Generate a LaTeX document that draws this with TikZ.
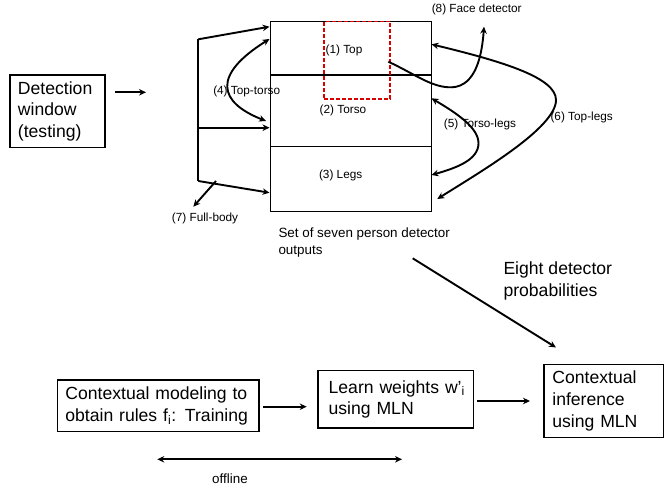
\documentclass[tikz,border=0pt]{standalone}
\usepackage{fontspec}
\setmainfont{Liberation Sans}
\usetikzlibrary{arrows.meta}
\begin{document}
\begin{tikzpicture}[x=1pt,y=-1pt,
  bigtxt/.style={font=\fontsize{17.6}{21.7}\selectfont},
  midtxt/.style={font=\fontsize{13.4}{17.3}\selectfont},
  smalltxt/.style={font=\fontsize{11.8}{14}\selectfont},
  box/.style={draw, line width=1.3pt, anchor=north west, align=left, inner ysep=0pt},
  part/.style={draw, line width=1.3pt, anchor=north west, inner sep=0pt},
  tip/.tip={Stealth[length=7pt,width=6.5pt]},
  arr/.style={line width=1.9pt, -tip},
  darr/.style={line width=1.9pt, tip-tip},
  plain/.style={line width=1.9pt}]
\useasboundingbox (0,0) rectangle (664,490);

% detection window
\node[box, bigtxt, minimum width=95pt, minimum height=72.4pt, text width=79pt, inner xsep=8pt] (det) at (9.3,74.3) {Detection\\window\\(testing)};
\coordinate (d1) at (115,92.3);
\coordinate (d2) at (146,92.3);
\draw[arr] (d1) -- (d2);

% main detector box
\node[part, minimum width=160.7pt, minimum height=53.6pt] (top) at (270,20.7) {};
\node[part, minimum width=160.7pt, minimum height=71.4pt] (torso) at (270,74.3) {};
\node[part, minimum width=160.7pt, minimum height=65pt] (legs) at (270,145.7) {};
\node[smalltxt] (ltop) at (344,50.7) {(1) Top};
\node[smalltxt] (ltorso) at (343,110) {(2) Torso};
\node[smalltxt] (llegs) at (340.7,175) {(3) Legs};
\node[draw=red!85!black, dash pattern=on 4pt off 2pt, line width=1.4pt, anchor=north west, minimum width=66pt, minimum height=77.6pt, inner sep=0pt] (face) at (323.3,20.7) {};

% left bracket
\coordinate (b1) at (198.3,39.3);
\coordinate (b2) at (198.3,127.7);
\coordinate (b3) at (198.3,181);
\coordinate (t1) at (269.5,26.7);
\coordinate (t2) at (269.5,127.7);
\coordinate (t3) at (269.5,192.7);
\draw[plain] (b1) -- (b3);
\draw[arr] (b1) -- (t1);
\draw[arr] (b2) -- (t2);
\draw[arr] (b3) -- (t3);

% full body
\coordinate (fb1) at (216,181);
\coordinate (fb2) at (193.3,206.7);
\draw[arr] (fb1) -- (fb2);
\node[smalltxt] (lfull) at (205,218) {(7) Full-body};

% top-torso
\coordinate (tt1) at (269.5,39);
\coordinate (tt2) at (266,121);
\draw[darr] (tt1) .. controls (212,75) and (218,102) .. (tt2);
\node[smalltxt] (ltt) at (246.7,91.7) {(4) Top-torso};

% face detector
\coordinate (fa1) at (388.3,61.7);
\coordinate (fa2) at (484,26.7);
\draw[arr] (fa1) .. controls (415,74) and (432,88) .. (452,87.3) .. controls (476,86) and (482,55) .. (fa2);
\node[smalltxt] (lface) at (476.7,9) {(8) Face detector};

% top-legs
\coordinate (tl1) at (431.5,44.3);
\coordinate (tl2) at (437.3,199);
\draw[darr] (tl1) .. controls (505,62) and (556,78) .. (556,100) .. controls (556,128) and (480,172) .. (tl2);
\node[smalltxt] (ltl) at (581.7,117.7) {(6) Top-legs};

% torso-legs
\coordinate (tg1) at (431.5,98.3);
\coordinate (tg2) at (431.5,175);
\draw[darr] (tg1) .. controls (458,114) and (478.5,128) .. (478.5,143.3) .. controls (478.5,160) and (456,168) .. (tg2);
\node[smalltxt] (ltg) at (480,124) {(5) Torso-legs};

% outputs
\node[midtxt, anchor=north west, align=left, inner sep=0pt] (outs) at (278.3,227.5) {Set of seven person detector\\outputs};
\coordinate (p1) at (412.7,258.3);
\coordinate (p2) at (556,347.5);
\draw[arr] (p1) -- (p2);
\node[bigtxt, anchor=north west, align=left, inner sep=0pt] (eight) at (503.3,262) {Eight detector\\probabilities};

% bottom row
\node[box, bigtxt, minimum width=201.6pt, minimum height=51.4pt, text width=185.6pt, inner xsep=8pt] (ctx) at (56.7,379.3) {Contextual modeling to\\obtain rules f\textsubscript{i}: Training};
\node[box, bigtxt, minimum width=155.4pt, minimum height=57.3pt, text width=142pt, inner xsep=6.7pt] (learn) at (317.3,370) {\hspace*{4pt}Learn weights w’\textsubscript{i}\\\hspace*{4pt}using MLN};
\node[box, bigtxt, minimum width=119.2pt, minimum height=72.7pt, text width=102.4pt, inner xsep=8.4pt] (inf) at (543.3,364) {Contextual\\inference\\using MLN};
\coordinate (c1) at (263.3,406.7);
\coordinate (c2) at (306.7,406.7);
\coordinate (c3) at (477.3,401);
\coordinate (c4) at (530,401);
\draw[arr] (c1) -- (c2);
\draw[arr] (c3) -- (c4);

% offline
\coordinate (o1) at (157.3,459.3);
\coordinate (o2) at (402,459.3);
\draw[darr] (o1) -- (o2);
\node[midtxt] (off) at (230,478.3) {offline};
\end{tikzpicture}
\end{document}
